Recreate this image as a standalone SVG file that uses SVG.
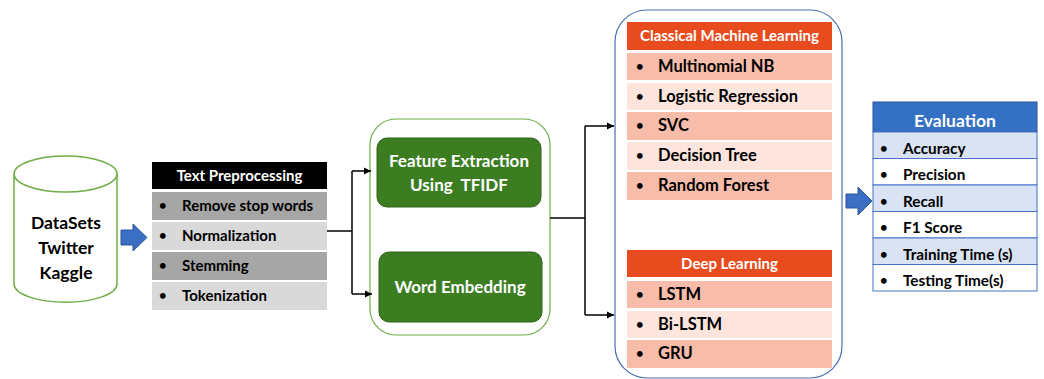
<svg xmlns="http://www.w3.org/2000/svg" width="1044" height="379" viewBox="0 0 1044 379">
<defs>
<style>
text{font-family:Lato,"Open Sans","Liberation Sans",sans-serif;font-weight:bold;fill:#000;}
.p{font-size:15px;}
.m{font-size:16.5px;}
.v{font-size:15.3px;}
.dot{font-size:13px;}
.hw{fill:#fff;text-anchor:middle;}
.g1{fill:#a6a6a6;}
.g2{fill:#d9d9d9;}
.s1{fill:#f8bcaa;}
.s2{fill:#fde5de;}
.e1{fill:#dae3f3;stroke:#4472c4;stroke-width:1;}
.e2{fill:#fff;stroke:#4472c4;stroke-width:1;}
.con{fill:none;stroke:#000;stroke-width:1.5;}
.gb{fill:#3c7d22;stroke:#2f6419;stroke-width:1;}
.barrow{fill:#3a6fc4;stroke:#2f5597;stroke-width:1;}
</style>
<marker id="ah" viewBox="0 0 10 10" refX="10" refY="5" markerWidth="5" markerHeight="5" orient="auto">
<path d="M0,0 L10,5 L0,10 z" fill="#000"/>
</marker>
</defs>
<rect width="1044" height="379" fill="#fff"/>

<g id="datasets">
<path d="M14,174 L14,284 A51,18 0 0 0 117,284 L117,174" fill="#fff" stroke="#70ad47" stroke-width="1.5"/>
<ellipse cx="65.5" cy="174" rx="51.5" ry="18" fill="#fff" stroke="#70ad47" stroke-width="1.5"/>
<text x="66" y="229" text-anchor="middle" font-size="17.5">DataSets</text>
<text x="66" y="254" text-anchor="middle" font-size="17.5">Twitter</text>
<text x="66" y="279" text-anchor="middle" font-size="17.5">Kaggle</text>
</g>

<g id="arrow1">
<path class="barrow" d="M121,230 L133,230 L133,224 L147,237.5 L133,251 L133,245 L121,245 z"/>
</g>

<g id="preprocessing">
<rect x="152" y="162" width="175" height="27" fill="#000"/>
<text class="hw" x="239.5" y="181" font-size="15">Text Preprocessing</text>
<rect class="g1" x="152" y="192" width="175" height="28"/>
<rect class="g2" x="152" y="222" width="175" height="28"/>
<rect class="g1" x="152" y="252" width="175" height="28"/>
<rect class="g2" x="152" y="282" width="175" height="28"/>
<text class="dot" x="159" y="210">•</text><text class="p" x="182" y="211">Remove stop words</text>
<text class="dot" x="159" y="240">•</text><text class="p" x="182" y="241">Normalization</text>
<text class="dot" x="159" y="270">•</text><text class="p" x="182" y="271">Stemming</text>
<text class="dot" x="159" y="300">•</text><text class="p" x="182" y="301">Tokenization</text>
</g>

<g id="features">
<rect x="370" y="119" width="180" height="216" rx="26" fill="#fff" stroke="#70ad47" stroke-width="1.2"/>
<rect class="gb" x="377" y="138" width="164" height="69" rx="10"/>
<text class="hw" x="459" y="167" font-size="17">Feature Extraction</text>
<text class="hw" x="459" y="191" font-size="17" xml:space="preserve">Using  TFIDF</text>
<rect class="gb" x="379" y="252" width="163" height="70" rx="10"/>
<text class="hw" x="460" y="293" font-size="17">Word Embedding</text>
</g>

<g id="models">
<rect x="615" y="10" width="227" height="368" rx="32" fill="#fff" stroke="#4a70b0" stroke-width="1.2"/>
<rect x="627" y="22" width="205" height="28" fill="#e84c1e"/>
<text class="hw" x="729.5" y="41" font-size="15">Classical Machine Learning</text>
<rect class="s1" x="627" y="53" width="205" height="27"/>
<rect class="s2" x="627" y="83" width="205" height="27"/>
<rect class="s1" x="627" y="112" width="205" height="28"/>
<rect class="s2" x="627" y="142" width="205" height="28"/>
<rect class="s1" x="627" y="172" width="205" height="28"/>
<text class="dot" x="636" y="71">•</text><text class="m" x="658" y="72">Multinomial NB</text>
<text class="dot" x="636" y="101">•</text><text class="m" x="658" y="102">Logistic Regression</text>
<text class="dot" x="636" y="130">•</text><text class="m" x="658" y="131">SVC</text>
<text class="dot" x="636" y="160">•</text><text class="m" x="658" y="161">Decision Tree</text>
<text class="dot" x="636" y="190">•</text><text class="m" x="658" y="191">Random Forest</text>
<rect x="627" y="250" width="205" height="27" fill="#e84c1e"/>
<text class="hw" x="729.5" y="269" font-size="15">Deep Learning</text>
<rect class="s1" x="627" y="281" width="205" height="27"/>
<rect class="s2" x="627" y="311" width="205" height="27"/>
<rect class="s1" x="627" y="340" width="205" height="28"/>
<text class="dot" x="636" y="299">•</text><text class="m" x="658" y="300">LSTM</text>
<text class="dot" x="636" y="329">•</text><text class="m" x="658" y="330">Bi-LSTM</text>
<text class="dot" x="636" y="358">•</text><text class="m" x="658" y="359">GRU</text>
</g>

<g id="arrow2">
<path class="barrow" d="M846,194 L858,194 L858,187 L872,201 L858,215 L858,208 L846,208 z"/>
</g>

<g id="evaluation">
<rect x="873" y="102" width="164" height="30" fill="#3470c4" stroke="#2f5597" stroke-width="1"/>
<text class="hw" x="955" y="127" font-size="17.5">Evaluation</text>
<rect class="e1" x="873" y="132" width="164" height="26.5"/>
<rect class="e2" x="873" y="158.5" width="164" height="26.5"/>
<rect class="e1" x="873" y="185" width="164" height="26.5"/>
<rect class="e2" x="873" y="211.5" width="164" height="26.5"/>
<rect class="e1" x="873" y="238" width="164" height="26.5"/>
<rect class="e2" x="873" y="264.5" width="164" height="26.5"/>
<text class="dot" x="880" y="153">•</text><text class="v" x="903" y="154">Accuracy</text>
<text class="dot" x="880" y="179">•</text><text class="v" x="903" y="180">Precision</text>
<text class="dot" x="880" y="206">•</text><text class="v" x="903" y="207">Recall</text>
<text class="dot" x="880" y="232">•</text><text class="v" x="903" y="233">F1 Score</text>
<text class="dot" x="880" y="259">•</text><text class="v" x="903" y="260">Training Time (s)</text>
<text class="dot" x="880" y="285">•</text><text class="v" x="903" y="286">Testing Time(s)</text>
</g>

<g id="connectors">
<path class="con" d="M327,231 L352,231"/>
<path class="con" d="M352,171 L352,294"/>
<path class="con" d="M352,171 L371,171" marker-end="url(#ah)"/>
<path class="con" d="M352,294 L372,294" marker-end="url(#ah)"/>
<path class="con" d="M550,218 L585,218"/>
<path class="con" d="M585,126 L585,315"/>
<path class="con" d="M585,126 L614,126" marker-end="url(#ah)"/>
<path class="con" d="M585,315 L614,315" marker-end="url(#ah)"/>
</g>
</svg>
